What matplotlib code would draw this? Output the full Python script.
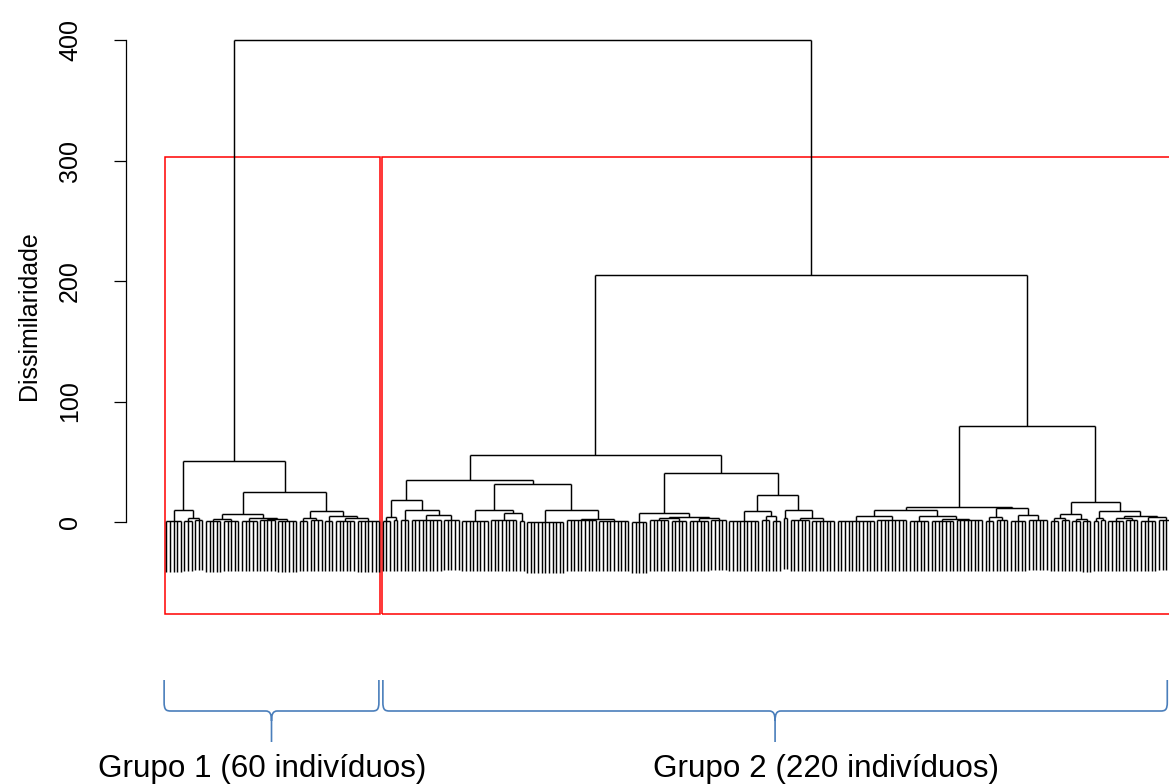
import numpy as np
import matplotlib
matplotlib.use("Agg")
import matplotlib.pyplot as plt
from matplotlib.collections import LineCollection
from matplotlib.path import Path
from matplotlib.patches import PathPatch, Rectangle

plt.rcParams['font.family'] = ['Liberation Sans', 'DejaVu Sans']

# ---------------- data (dendrogram) ----------------
# node = [merge height, left subtree, right subtree]; (n, h) = n leaves joined at height h
grupo1_A = [10, (5, 0.5), [3, (3, 1.0), (3, 2.0)]]
grupo1_B1 = [6.5, [2.5, (5, 0.5), (5, 1.0)],
             [3.6, (5, 1.0), [2.5, (5, 1.5), (6, 0.8)]]]
grupo1_B2 = [9.0, [3.6, (3, 1.0), (4, 1.5)],
             [5.0, (3, 1.0), [3.0, (6, 1.2), (7, 0.8)]]]
grupo1_tree = [50.6, grupo1_A, [25, grupo1_B1, grupo1_B2]]

grupo2_C1 = [35,
             [18, [4, (3, 1.0), (2, 1.5)], [10, (3, 1.5), [6, (9, 1.5), (5, 2.0)]]],
             [31.5, [10, (8, 1.0), [7.7, (8, 1.5), (2, 1.0)]],
                    [10, (11, 0.0), [2.3, (9, 1.5), (9, 1.0)]]]]
grupo2_C2 = [40.5,
             [7.5, (5, 0.0), [4, [3, (6, 1.5), (5, 1.0)], [3.5, (6, 1.2), (5, 1.8)]]],
             [22.4, [9, (9, 1.0), [5, (3, 1.5), (3, 1.0)]],
                    [10, (2, 3.0), [3.5, (6, 1.5), (7, 1.0)]]]]
grupo2_D1 = [12.5,
             [10, [5, (11, 1.0), (9, 1.5)], [5, (6, 1.0), [2.5, (7, 1.0), (8, 1.5)]]],
             [11.5, [4, (3, 1.0), (4, 1.5)], [6, (5, 1.0), (6, 2.0)]]]
grupo2_D2 = [16.6,
             [6.6, [3, (3, 1.0), (3, 1.5)], [2.5, (3, 1.0), (3, 0.5)]],
             [9, [3, (2, 1.0), (2, 1.5)], [5, [3, (5, 1.0), (4, 1.5)], [4, (5, 1.0), (5, 2.0)]]]]
grupo2_tree = [205, [55.6, grupo2_C1, grupo2_C2], [80, grupo2_D1, grupo2_D2]]

root_height = 400
group_sizes = [60, 220]
group_labels = ["Grupo 1 (60 indivíduos)", "Grupo 2 (220 indivíduos)"]
brace_spans = [(0.4, 59.9), (61.0, 278.3)]      # in leaf units
label_centers = [27.7, 183.8]                    # in leaf units
y_ticks = [0, 100, 200, 300, 400]
y_label = "Dissimilaridade"
HANG = 42

# ---------------- build segments ----------------
segments = []

def build(node, start):
    if isinstance(node, tuple):
        n, h = node
        xs = np.arange(start, start + n, dtype=float)
        if n == 1:
            return xs[0], None, 1
        for x in xs:
            segments.append([(x, h), (x, h - HANG)])
        segments.append([(xs[0], h), (xs[-1], h)])
        return xs.mean(), h, n
    h, left, right = node
    xl, hl, nl = build(left, start)
    xr, hr, nr = build(right, start + nl)
    for xc, hc in ((xl, hl), (xr, hr)):
        bottom = hc if hc is not None else h - HANG
        segments.append([(xc, bottom), (xc, h)])
    segments.append([(xl, h), (xr, h)])
    return (xl + xr) / 2, h, nl + nr

root = [root_height, grupo1_tree, grupo2_tree]
build(root, 1)
n_leaves = sum(group_sizes)

# ---------------- figure ----------------
W, H = 1169, 784
fig = plt.figure(figsize=(W / 100, H / 100), dpi=100)
ax_left_px, ax_right_px, ax_top_px, ax_bot_px = 126, 1213.7, 18, 614
ax = fig.add_axes([ax_left_px / W, (H - ax_bot_px) / H,
                   (ax_right_px - ax_left_px) / W, (ax_bot_px - ax_top_px) / H])
ext = 0.04 * (n_leaves - 1)
ax.set_xlim(1 - ext, n_leaves + ext)
ax.set_ylim(-76.35, 418.26)
ax.patch.set_visible(False)

ax.add_collection(LineCollection(segments, colors='black', linewidths=1.05,
                                 capstyle='butt'))

# red rectangles (rect.hclust, k = 2)
rect_top = (root_height + grupo2_tree[0]) / 2
ybot = ax.get_ylim()[0]
cum = np.concatenate([[0], np.cumsum(group_sizes)])
for i in range(len(group_sizes)):
    x0, x1 = cum[i] + 0.66, cum[i + 1] + 0.33
    ax.add_patch(Rectangle((x0, ybot), x1 - x0, rect_top - ybot, fill=False,
                           edgecolor='#FF0000', linewidth=1.1, clip_on=False))

for s in ['top', 'right', 'bottom']:
    ax.spines[s].set_visible(False)
ax.spines['left'].set_bounds(0, 400)
ax.spines['left'].set_linewidth(0.9)
ax.set_xticks([])
ax.set_yticks(y_ticks)
ax.set_yticklabels([str(t) for t in y_ticks], rotation=90, va='center')
ax.tick_params(axis='y', length=8.6, width=0.9, pad=23, labelsize=18)
ax.set_ylabel(y_label, fontsize=18)
ax.yaxis.set_label_coords((41 - ax_left_px) / (ax_right_px - ax_left_px), 0.5)

# ---------------- braces and group labels (pixel overlay) ----------------
ox = fig.add_axes([0, 0, 1, 1])
ox.set_xlim(0, W)
ox.set_ylim(H, 0)
ox.axis('off')
ox.patch.set_alpha(0)

def px(u):
    return ax.transData.transform((u, 0))[0]

y_top, y_mid, y_tip = 680, 711, 742
brace_color = '#4A7EBB'
for (u0, u1), lab, uc in zip(brace_spans, group_labels, label_centers):
    x0, x1 = px(u0), px(u1)
    xc = (x0 + x1) / 2
    verts = [(x0, y_top), (x0, y_mid - 9),
             (x0, y_mid - 1), (x0 + 2, y_mid), (x0 + 7, y_mid),
             (xc - 6, y_mid),
             (xc - 1.5, y_mid), (xc, y_mid + 3), (xc, y_mid + 10),
             (xc, y_tip),
             (xc, y_mid + 10),
             (xc, y_mid + 3), (xc + 1.5, y_mid), (xc + 6, y_mid),
             (x1 - 7, y_mid),
             (x1 - 2, y_mid), (x1, y_mid - 1), (x1, y_mid - 9),
             (x1, y_top)]
    codes = [Path.MOVETO, Path.LINETO,
             Path.CURVE4, Path.CURVE4, Path.CURVE4,
             Path.LINETO,
             Path.CURVE4, Path.CURVE4, Path.CURVE4,
             Path.LINETO,
             Path.MOVETO,
             Path.CURVE4, Path.CURVE4, Path.CURVE4,
             Path.LINETO,
             Path.CURVE4, Path.CURVE4, Path.CURVE4,
             Path.LINETO]
    ox.add_patch(PathPatch(Path(verts, codes), fill=False, edgecolor=brace_color,
                           linewidth=1.2))
    ox.text(px(uc), 777, lab, ha='center', va='baseline', fontsize=22.6,
            color='black')

fig.savefig('out.png', dpi=100)
